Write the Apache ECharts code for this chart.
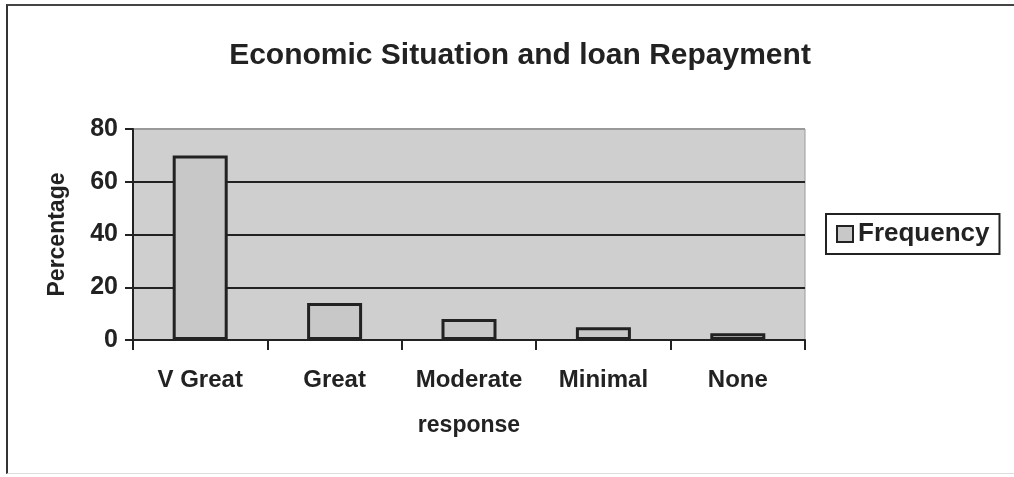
<!DOCTYPE html>
<html>
<head>
<meta charset="utf-8">
<script src="https://cdn.jsdelivr.net/npm/echarts@6/dist/echarts.min.js"></script>
<style>
  html, body { margin: 0; padding: 0; background: #fff; }
  #frame {
    position: absolute; left: 6px; top: 4px; width: 1008px; height: 470px;
    border-left: 2px solid #333; border-top: 2px solid #444; border-bottom: 1px solid #ddd;
    box-sizing: border-box;
  }
  #chart { position: absolute; left: 0; top: 0; width: 1014px; height: 477px; }
</style>
</head>
<body>
<div id="frame"></div>
<div id="chart"></div>
<script>
const categories = ["V Great", "Great", "Moderate", "Minimal", "None"];
const frequency = [70, 14, 8, 4.8, 2.6];
const yTicks = [0, 20, 40, 60, 80];

const font = "'Liberation Sans', Arial, sans-serif";
const chart = echarts.init(document.getElementById("chart"));

chart.setOption({
  animation: false,
  title: {
    text: "Economic Situation and loan Repayment",
    left: 515,
    textAlign: "center",
    top: 36,
    textStyle: { fontFamily: font, fontSize: 30, fontWeight: "bold", color: "#222" },
  },
  legend: {
    left: 826,
    top: 214,
    itemWidth: 16,
    itemHeight: 16,
    itemGap: 0,
    padding: [7, 10, 7, 10],
    borderColor: "#222",
    borderWidth: 2,
    icon: "rect",
    textStyle: { fontFamily: font, fontSize: 26, fontWeight: "bold", color: "#222" },
    itemStyle: { borderColor: "#222", borderWidth: 2 },
    data: ["Frequency"],
  },
  grid: {
    left: 133,
    right: 209,
    top: 129,
    bottom: 137,
    show: true,
    backgroundColor: "#cfcfcf",
    borderColor: "#9a9a9a",
    borderWidth: 1,
  },
  xAxis: {
    type: "category",
    data: categories,
    name: "response",
    nameLocation: "middle",
    nameGap: 74,
    nameTextStyle: { fontFamily: font, fontSize: 23, fontWeight: "bold", color: "#222" },
    axisLine: { lineStyle: { color: "#222", width: 2 } },
    axisTick: { show: true, interval: 0, length: 10, lineStyle: { color: "#222", width: 2 } },
    axisLabel: { interval: 0, hideOverlap: false, margin: 28, fontFamily: font, fontSize: 24, fontWeight: "bold", color: "#222" },
  },
  yAxis: {
    type: "value",
    min: yTicks[0],
    max: yTicks[yTicks.length - 1],
    interval: 20,
    name: "Percentage",
    nameLocation: "middle",
    nameGap: 64,
    nameTextStyle: { fontFamily: font, fontSize: 23, fontWeight: "bold", color: "#222" },
    axisLine: { show: true, lineStyle: { color: "#222", width: 2 } },
    axisTick: { show: true, length: 8, lineStyle: { color: "#222", width: 2 } },
    axisLabel: { margin: 15, fontFamily: font, fontSize: 25, fontWeight: "bold", color: "#222" },
    splitLine: {
      show: true,
      lineStyle: { color: ["#222", "#222", "#222", "#222", "#9a9a9a"], width: 2 },
    },
  },
  series: [
    {
      name: "Frequency",
      type: "bar",
      barWidth: 55,
      data: frequency,
      itemStyle: { color: "#c8c8c8", borderColor: "#222", borderWidth: 3 },
    },
  ],
});
</script>
</body>
</html>
